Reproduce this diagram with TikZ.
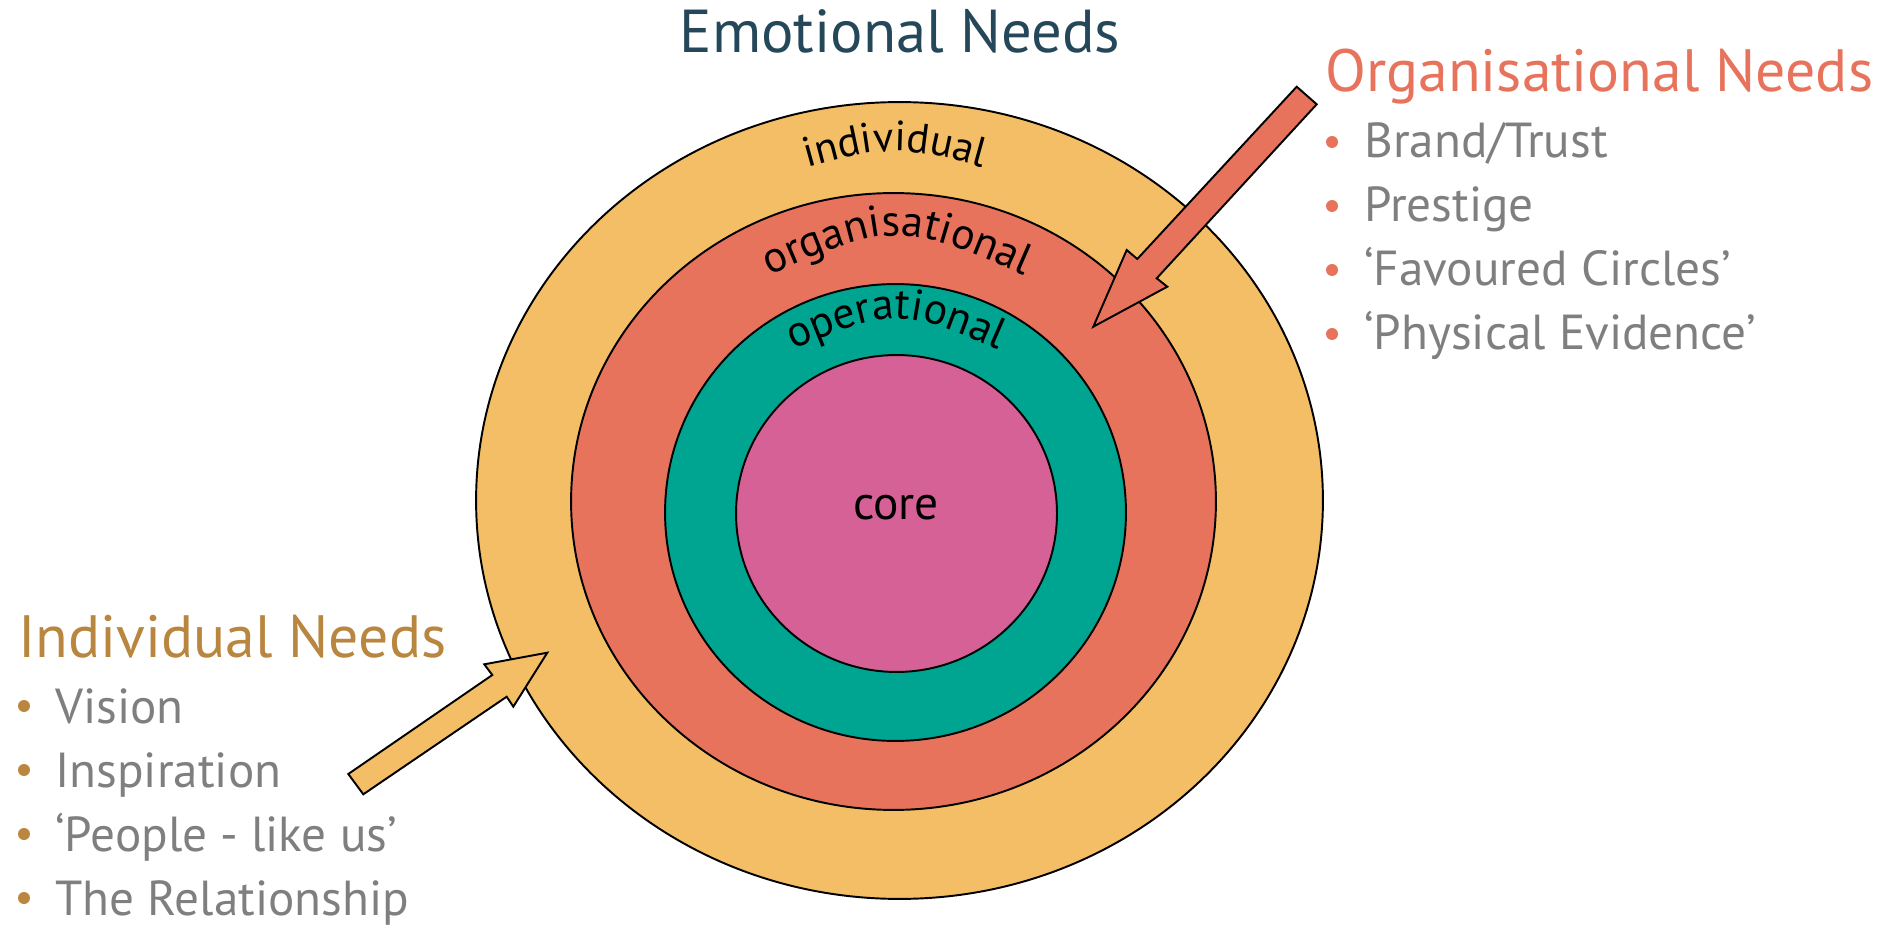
\documentclass[tikz,border=0pt]{standalone}
\usepackage{fontspec}
\setmainfont{PT Sans}
\usetikzlibrary{decorations.text}
\definecolor{cyellow}{HTML}{F3BE65}
\definecolor{corange}{HTML}{E8735C}
\definecolor{cteal}{HTML}{00A591}
\definecolor{cpink}{HTML}{D66196}
\definecolor{ctitle}{HTML}{25475A}
\definecolor{cbrown}{HTML}{B8863F}
\definecolor{cgray}{HTML}{7F7F7F}
\tikzset{
  ring/.style={draw=black, line width=1.1pt},
  blockarrow/.style={draw=black, line width=1.1pt, line join=miter},
  heading/.style={inner sep=0pt, anchor=base west, font=\fontsize{34}{40}\selectfont},
  item/.style={inner sep=0pt, anchor=base west, text=cgray, font=\fontsize{28}{33}\selectfont},
  dot/.style={circle, inner sep=0pt, minimum size=0.24cm},
  arclabel/.style={decorate, decoration={text along path, text align=center,
     text={|\fontsize{25}{30}\selectfont|#1}}}
}
\begin{document}
\begin{tikzpicture}[x=0.02cm,y=-0.02cm]
\useasboundingbox (0,0) rectangle (1903,925);
% rings
\draw[ring, fill=cyellow] (899.5,500.5) ellipse [x radius=8.47cm, y radius=7.97cm];
\draw[ring, fill=corange] (893.5,501.5) ellipse [x radius=6.45cm, y radius=6.17cm];
\draw[ring, fill=cteal] (895.5,512.5) ellipse [x radius=4.61cm, y radius=4.57cm];
\draw[ring, fill=cpink] (896.5,513.5) ellipse [x radius=3.21cm, y radius=3.17cm];
\node[inner sep=0pt, anchor=base, font=\fontsize{27}{32}\selectfont] (core) at (896,520) {core};
% ring labels
\path[decorate, decoration={text along path, text align=center,
     text={|\fontsize{24}{29}\selectfont|individual}}] (770,178) .. controls (895,142) .. (1020,178);
\path[arclabel=organisational] (747,285) .. controls (897,219) .. (1047,285);
\path[arclabel=operational] (766,362) .. controls (896,304) .. (1026,362);
% title
\node[inner sep=0pt, anchor=base, text=ctitle, font=\fontsize{34.5}{40}\selectfont] (title) at (900,53) {Emotional Needs};
% organisational arrow
\coordinate (oa1) at (1296.7,86.7);
\coordinate (oa2) at (1316.7,104.3);
\coordinate (oa3) at (1156.7,278.3);
\coordinate (oa4) at (1167.3,286.7);
\coordinate (oa5) at (1093.3,326.7);
\coordinate (oa6) at (1126.7,250);
\coordinate (oa7) at (1137.3,259);
\draw[blockarrow, fill=corange] (oa1) -- (oa2) -- (oa3) -- (oa4) -- (oa5) -- (oa6) -- (oa7) -- cycle;
% individual arrow
\coordinate (ia1) at (348.3,774);
\coordinate (ia2) at (492.3,675);
\coordinate (ia3) at (484.3,664.3);
\coordinate (ia4) at (547.3,652.7);
\coordinate (ia5) at (513.3,706.7);
\coordinate (ia6) at (506.7,696.7);
\coordinate (ia7) at (363.3,794.3);
\draw[blockarrow, fill=cyellow] (ia1) -- (ia2) -- (ia3) -- (ia4) -- (ia5) -- (ia6) -- (ia7) -- cycle;
% organisational needs list
\node[heading, text=corange] (orgh) at (1325,92) {Organisational Needs};
\node[dot, fill=corange] (od1) at (1332,142) {};
\node[dot, fill=corange] (od2) at (1332,206) {};
\node[dot, fill=corange] (od3) at (1332,270) {};
\node[dot, fill=corange] (od4) at (1332,334) {};
\node[item] (oi1) at (1364,158) {Brand/Trust};
\node[item] (oi2) at (1364,222) {Prestige};
\node[item] (oi3) at (1364,286) {‘Favoured Circles’};
\node[item] (oi4) at (1364,350) {‘Physical Evidence’};
% individual needs list
\node[heading, text=cbrown] (indh) at (18,657) {Individual Needs};
\node[dot, fill=cbrown] (id1) at (24,706) {};
\node[dot, fill=cbrown] (id2) at (24,770) {};
\node[dot, fill=cbrown] (id3) at (24,834) {};
\node[dot, fill=cbrown] (id4) at (24,898) {};
\node[item] (ii1) at (55,723) {Vision};
\node[item] (ii2) at (55,787) {Inspiration};
\node[item] (ii3) at (55,851) {‘People - like us’};
\node[item] (ii4) at (55,915) {The Relationship};
\end{tikzpicture}
\end{document}
